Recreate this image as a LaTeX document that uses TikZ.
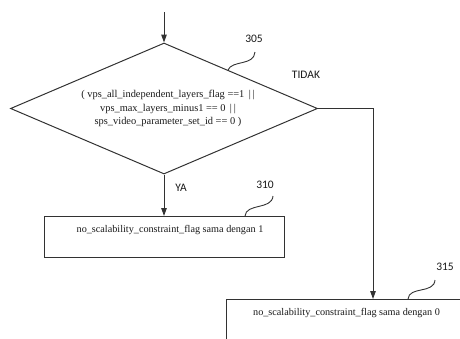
\documentclass[tikz,border=0pt]{standalone}
\usepackage{fontspec}
\setmainfont{Liberation Serif}
\newfontfamily\refnumfont{Carlito}
\usetikzlibrary{shapes.geometric,arrows.meta}
\definecolor{flowline}{RGB}{50,50,50}
\definecolor{flowtext}{RGB}{25,25,25}

\begin{document}
\begin{tikzpicture}[x=1pt,y=-1pt,line width=1pt,
  flow/.style={draw=flowline,-{Triangle[length=8pt,width=5.5pt]}},
  decision/.style={draw=flowline,shape=diamond,aspect=2.34,inner sep=0pt,
    minimum width=307pt,minimum height=131pt,align=center,
    font=\fontsize{10.4}{13.5}\selectfont,text=flowtext},
  stepbox/.style={draw=flowline,rectangle,minimum width=240pt,inner sep=0pt,
    text height=16pt,text depth=25pt,font=\fontsize{10.2}{12}\selectfont,text=flowtext},
  refnum/.style={font=\refnumfont\fontsize{11.5}{13}\selectfont,text=flowtext},
  lead/.style={draw=flowline,line width=0.9pt}]
  \useasboundingbox (0,0) rectangle (460,338);
  \clip (0,0) rectangle (460,338);

  \coordinate (start) at (164,12);
  \node[decision] (dec) at (164,108.5)
    {\hspace*{8pt}( vps\_all\_independent\_layers\_flag ==1 \,|\,|\\
     \hspace*{8pt}vps\_max\_layers\_minus1 == 0 \,|\,|\\
     \hspace*{8pt}sps\_video\_parameter\_set\_id == 0 )};
  \node[stepbox,anchor=north] (yes) at (164,216)
    {\hspace*{12pt}no\_scalability\_constraint\_flag sama dengan 1};
  \node[stepbox,anchor=north west] (no) at (226,299)
    {no\_scalability\_constraint\_flag sama dengan 0};
  \coordinate (turn) at (373,108.5);

  \draw[flow] (start) -- (dec.north);
  \draw[flow] (dec.south) -- (yes.north);
  \draw[flow] (dec.east) -- (turn) -- (turn |- no.north);

  \node[refnum] (lbltidak) at (306,75) {TIDAK};
  \node[refnum] (lblya) at (181,188) {YA};

  % reference numerals
  \node[refnum] (r305) at (254,39) {305};
  \node[refnum] (r310) at (265,185) {310};
  \node[refnum] (r315) at (445,267) {315};
  \draw[lead] (228,70) .. controls (232,60) and (254,66) .. (255,52);
  \draw[lead] (245,216) .. controls (246,203) and (272,210) .. (273,196);
  \draw[lead] (408,299) .. controls (409,286) and (434,294) .. (435,280);
\end{tikzpicture}
\end{document}
